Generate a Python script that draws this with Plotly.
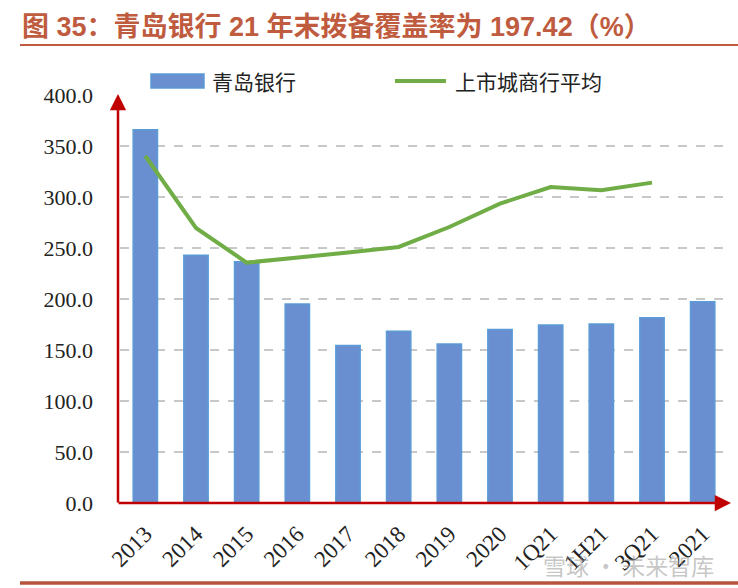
import plotly.graph_objects as go

categories = ["2013", "2014", "2015", "2016", "2017", "2018", "2019", "2020", "1Q21", "1H21", "3Q21", "2021"]
qd_bank = [366.0, 243.0, 236.5, 195.0, 154.5, 168.5, 156.0, 170.0, 174.5, 175.5, 181.5, 197.42]
city_avg = [340.2, 269.6, 235.7, 240.2, 245.5, 251.0, 270.6, 293.5, 309.8, 306.6, 314.1, None]
y_ticks = [0, 50, 100, 150, 200, 250, 300, 350, 400]

W, H = 738, 588
L, R, T, B = 120, 10, 95, 85

serif = "Liberation Serif, Times New Roman, Noto Sans CJK SC, serif"
cjk = "Noto Sans CJK SC, sans-serif"

fig = go.Figure()
fig.add_trace(go.Bar(
    x=categories, y=qd_bank, name="青岛银行",
    marker=dict(color="#6A8FD0", line=dict(color="#5B9BD5", width=1.5)),
    showlegend=False,
))
fig.add_trace(go.Scatter(
    x=categories, y=city_avg, name="上市城商行平均", mode="lines",
    line=dict(color="#70AD47", width=4), showlegend=False,
))

def px_x(p):
    return (p - L) / (W - L - R)

def px_y(p):
    return (H - B - p) / (H - T - B)

shapes = [
    # title underline
    dict(type="line", xref="paper", yref="paper", x0=px_x(20), x1=px_x(738), y0=px_y(45), y1=px_y(45),
         line=dict(color="#BF5B3E", width=2)),
    # bottom line
    dict(type="line", xref="paper", yref="paper", x0=px_x(20), x1=px_x(738), y0=px_y(583), y1=px_y(583),
         line=dict(color="#B5533C", width=3.5)),
    # legend swatches
    dict(type="rect", xref="paper", yref="paper", x0=px_x(151), x1=px_x(204), y0=px_y(88), y1=px_y(74),
         fillcolor="#6A8FD0", line=dict(color="#5B9BD5", width=1.5)),
    dict(type="line", xref="paper", yref="paper", x0=px_x(395), x1=px_x(446), y0=px_y(81), y1=px_y(81),
         line=dict(color="#70AD47", width=4)),
]

annotations = [
    dict(text="<b>图 35：青岛银行 21 年末拨备覆盖率为 197.42（%）</b>", xref="paper", yref="paper",
         x=px_x(20), y=px_y(27), xanchor="left", yanchor="middle", showarrow=False,
         font=dict(family="Liberation Sans, Noto Sans CJK SC, sans-serif", size=27, color="#BF5B3E")),
    dict(text="青岛银行", xref="paper", yref="paper", x=px_x(210), y=px_y(81),
         xanchor="left", yanchor="middle", showarrow=False,
         font=dict(family=cjk, size=21, color="#222222")),
    dict(text="上市城商行平均", xref="paper", yref="paper", x=px_x(453), y=px_y(81),
         xanchor="left", yanchor="middle", showarrow=False,
         font=dict(family=cjk, size=21, color="#222222")),
    # y axis arrow
    dict(x=px_x(118), y=px_y(94), ax=px_x(118), ay=px_y(504), xref="x domain", yref="y domain",
         axref="x domain", ayref="y domain", showarrow=True, arrowhead=2, arrowsize=1.3,
         arrowwidth=2.5, arrowcolor="#C00000", text=""),
    # x axis arrow
    dict(x=px_x(731), y=px_y(503), ax=px_x(117), ay=px_y(503), xref="x domain", yref="y domain",
         axref="x domain", ayref="y domain", showarrow=True, arrowhead=2, arrowsize=1.3,
         arrowwidth=2.5, arrowcolor="#C00000", text=""),
    # watermark
    dict(text="雪球 · 未来智库", xref="paper", yref="paper", x=px_x(716), y=px_y(565),
         xanchor="right", yanchor="middle", showarrow=False,
         font=dict(family=cjk, size=23, color="rgba(150,150,150,0.55)")),
]

fig.update_layout(
    width=W, height=H,
    margin=dict(l=L, r=R, t=T, b=B, pad=0),
    paper_bgcolor="white", plot_bgcolor="white",
    bargap=0.52,
    shapes=shapes, annotations=annotations,
    xaxis=dict(
        type="category", categoryorder="array", categoryarray=categories,
        tickangle=-45, tickfont=dict(family=serif, size=23, color="#222222"),
        showgrid=False, showline=False, ticks="", zeroline=False,
        ticklabelstandoff=12, automargin=False,
    ),
    yaxis=dict(
        range=[0, 400], tickvals=y_ticks, ticktext=[f"{v:.1f}" for v in y_ticks],
        tickfont=dict(family=serif, size=22, color="#222222"),
        showgrid=True, gridcolor="#C8C8C8", griddash="dash", gridwidth=1.5,
        zeroline=False, showline=False, ticks="", ticklabelstandoff=26, automargin=False,
    ),
)

fig.write_html("out.html", config={"displayModeBar": False},
               post_script="document.body.style.margin='0px';")
